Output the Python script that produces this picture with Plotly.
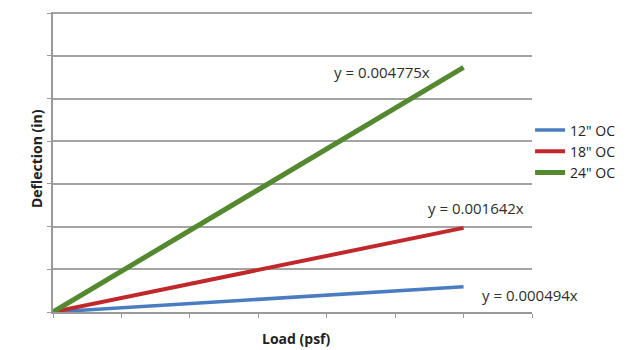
import plotly.graph_objects as go

# load in psf (no tick labels shown on the original)
load = [0, 60]
defl_12 = [0, 0.0296]
defl_18 = [0, 0.0985]
defl_24 = [0, 0.2865]

series = ['12" OC', '18" OC', '24" OC']
colors = ["#4a7dc0", "#c0282b", "#55892f"]
widths = [3.5, 4, 5]
equations = ["y = 0.000494x", "y = 0.001642x", "y = 0.004775x"]

fig = go.Figure()
for name, ys, c, w in zip(series, [defl_12, defl_18, defl_24], colors, widths):
    fig.add_trace(go.Scatter(x=load, y=ys, mode="lines", name=name,
                             line=dict(color=c, width=w)))

# trendline equations, placed near the line ends
eq_pos = [(62.4, 0.0199, "left"), (61.8, 0.1217, "center"), (48.1, 0.281, "center")]
for txt, (ex, ey, anc) in zip(equations, eq_pos):
    fig.add_annotation(x=ex, y=ey, text=txt, showarrow=False, xanchor=anc,
                       font=dict(size=15, color="#2e2e2e"))

fig.add_annotation(x=-0.058, y=0.512, xref="paper", yref="paper", text="<b>Deflection (in)</b>",
                   textangle=-90, showarrow=False, font=dict(size=14, color="#222222"))
fig.add_annotation(x=0.509, y=-0.088, xref="paper", yref="paper", text="<b>Load (psf)</b>",
                   showarrow=False, yanchor="middle", font=dict(size=14, color="#222222"))

fig.update_xaxes(range=[0, 70], dtick=10, showticklabels=False, showgrid=False,
                 showline=True, linecolor="#9a9a9a", linewidth=2,
                 ticks="outside", ticklen=4, tickcolor="#9a9a9a", zeroline=False)
# a bit of headroom so the top (0.35) gridline is not clipped
fig.update_yaxes(range=[0, 0.3513], dtick=0.05, showticklabels=False, showgrid=True,
                 gridcolor="#a3a3a3", gridwidth=2,
                 showline=True, linecolor="#9a9a9a", linewidth=2,
                 ticks="outside", ticklen=4, tickcolor="#9a9a9a", zeroline=False)

# page adds an 8px body margin, so the figure is drawn 8px smaller
fig.update_layout(
    width=631, height=342,
    margin=dict(l=45, r=107, t=4, b=38),
    plot_bgcolor="white", paper_bgcolor="white",
    font=dict(family="Open Sans, sans-serif", color="#222222"),
    legend=dict(x=0.996, y=0.535, xanchor="left", yanchor="middle",
                font=dict(size=14), itemwidth=30, bgcolor="rgba(0,0,0,0)"),
)

fig.write_html("out.html")
